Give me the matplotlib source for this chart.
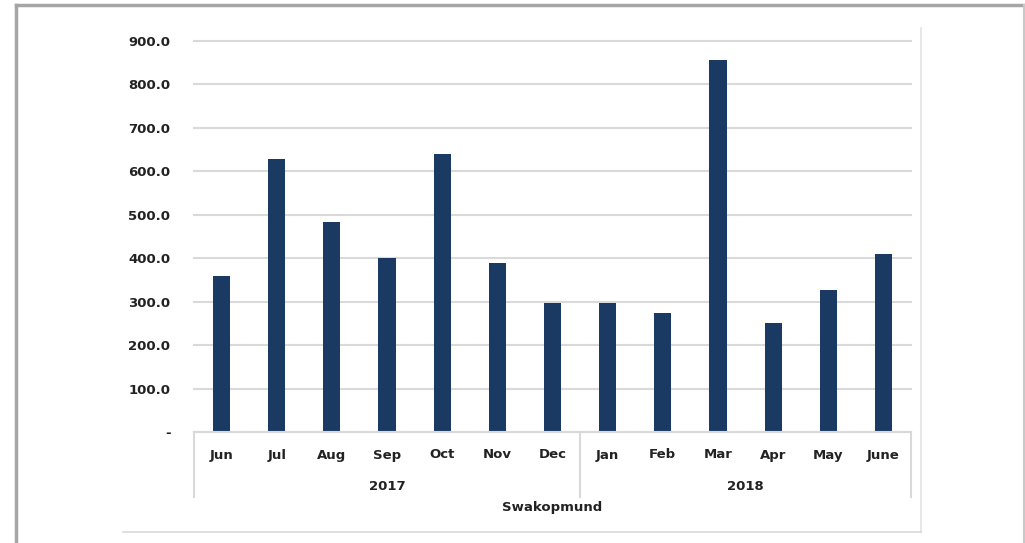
import matplotlib
matplotlib.use("Agg")
import matplotlib.pyplot as plt
from matplotlib.lines import Line2D
from matplotlib.transforms import blended_transform_factory

months = ["Jun", "Jul", "Aug", "Sep", "Oct", "Nov", "Dec",
          "Jan", "Feb", "Mar", "Apr", "May", "June"]
values = [359, 629, 483, 400, 641, 390, 298, 296, 275, 856, 252, 327, 410]
years = ["2017", "2018"]
year_counts = [7, 6]
region = "Swakopmund"
yticks = [0, 100, 200, 300, 400, 500, 600, 700, 800, 900]

W, H = 1025, 543
fig = plt.figure(figsize=(W / 100, H / 100), dpi=100)
fig.patch.set_facecolor("white")

def fx(px):
    return px / W

def fy(py):
    return 1 - py / H

ax_left, ax_right, ax_top, ax_bot = 194, 911, 41, 432
ax = fig.add_axes([fx(ax_left), fy(ax_bot), fx(ax_right - ax_left), (ax_bot - ax_top) / H])

bar_color = "#1B3A63"
text_color = "#222222"
grid_color = "#D9D9D9"
x = list(range(len(months)))
ax.bar(x, values, width=0.31, color=bar_color, zorder=3)
ax.set_xlim(-0.5, len(months) - 0.5)
ax.set_ylim(0, 900)

ax.set_yticks(yticks)
ax.set_yticklabels(["-" if v == 0 else f"{v:.1f}" for v in yticks],
                   fontsize=9.5, fontweight="bold", color=text_color)
ax.tick_params(axis="y", length=0, pad=17)
ax.set_xticks([])
ax.yaxis.grid(True, color=grid_color, linewidth=1.5, zorder=0)
for gl in ax.get_ygridlines():
    gl.set_clip_on(False)
for s in ax.spines.values():
    s.set_visible(False)

trans = blended_transform_factory(ax.transData, ax.transAxes)
ph = ax_bot - ax_top

def ay(py):
    return (ax_bot - py) / ph

# category axis line
ax.add_line(Line2D([-0.5, len(months) - 0.5], [0, 0], transform=trans,
                   color=grid_color, linewidth=1.5, clip_on=False, zorder=4))
# separators
edges = [-0.5]
for c in year_counts:
    edges.append(edges[-1] + c)
for e in edges:
    ax.add_line(Line2D([e, e], [0, ay(497)], transform=trans,
                       color=grid_color, linewidth=1.5, clip_on=False))

for i, m in enumerate(months):
    ax.text(i, ay(455), m, transform=trans, ha="center", va="center",
            fontsize=9.5, fontweight="bold", color=text_color)
for j, yr in enumerate(years):
    ax.text((edges[j] + edges[j + 1]) / 2, ay(487), yr, transform=trans,
            ha="center", va="center", fontsize=9.5, fontweight="bold", color=text_color)
ax.text((len(months) - 1) / 2, ay(508), region, transform=trans, ha="center",
        va="center", fontsize=9.5, fontweight="bold", color=text_color)

# inner chart area border (right and bottom)
fig.add_artist(Line2D([fx(921), fx(921)], [fy(28), fy(532)], color="#E3E3E3", linewidth=1.2))
fig.add_artist(Line2D([fx(123), fx(921)], [fy(532), fy(532)], color="#D9D9D9", linewidth=1.2))

# outer border
fig.add_artist(Line2D([fx(16), fx(16)], [fy(5), fy(545)], color="#A6A6A6", linewidth=2.5))
fig.add_artist(Line2D([fx(16), fx(1024)], [fy(5), fy(5)], color="#A6A6A6", linewidth=2.5))
fig.add_artist(Line2D([fx(1024), fx(1024)], [fy(5), fy(545)], color="#C8C8C8", linewidth=1.5))

fig.savefig("out.png", dpi=100, facecolor="white")
